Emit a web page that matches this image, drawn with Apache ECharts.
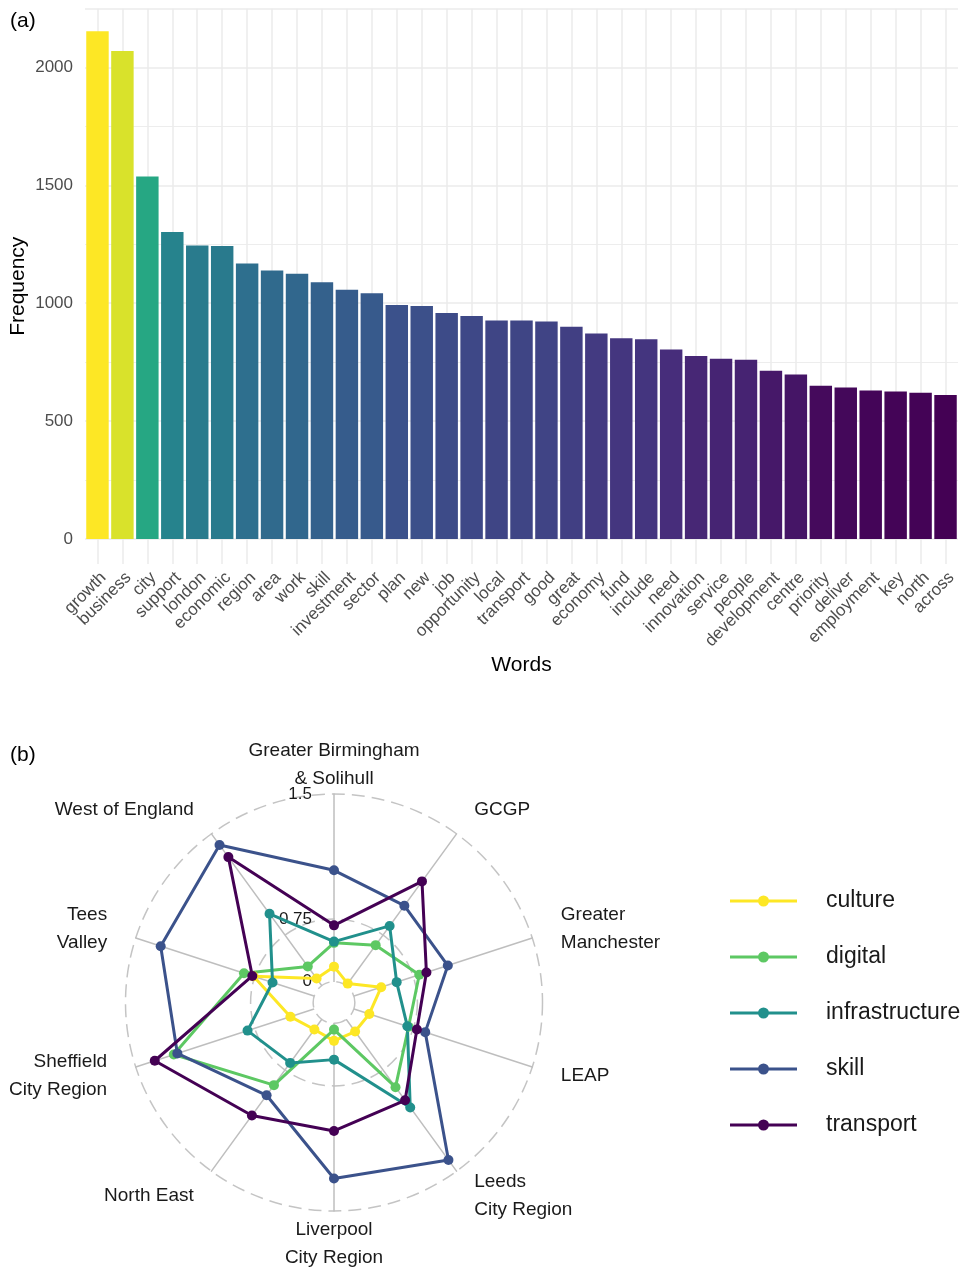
<!DOCTYPE html>
<html>
<head>
<meta charset="utf-8">
<script src="https://cdn.jsdelivr.net/npm/echarts@6/dist/echarts.min.js"></script>
<style>
  html, body { margin: 0; padding: 0; background: #fff; }
  #chart { width: 963px; height: 1269px; }
</style>
</head>
<body>
<div id="chart"></div>
<script>
// (a) word frequencies
const words = ['growth', 'business', 'city', 'support', 'london', 'economic', 'region', 'area', 'work', 'skill',
  'investment', 'sector', 'plan', 'new', 'job', 'opportunity', 'local', 'transport', 'good', 'great',
  'economy', 'fund', 'include', 'need', 'innovation', 'service', 'people', 'development', 'centre',
  'priority', 'deliver', 'employment', 'key', 'north', 'across']
const frequency = [2154, 2070, 1537, 1302, 1245, 1243, 1169, 1139, 1125, 1089,
  1057, 1042, 992, 988, 958, 946, 927, 927, 923, 900,
  872, 851, 847, 804, 776, 765, 760, 714, 698,
  650, 643, 630, 626, 620, 611]
const freqTickStep = 500
const freqMax = 2250

// (b) radar, regions clockwise from the top
const regions = ['Greater Birmingham\n& Solihull', 'GCGP', 'Greater\nManchester', 'LEAP', 'Leeds\nCity Region',
  'Liverpool\nCity Region', 'North East', 'Sheffield\nCity Region', 'Tees\nValley', 'West of England']
const topics = ['culture', 'digital', 'infrastructure', 'skill', 'transport']
const culture = [0.12, 0.02, 0.23, 0.13, 0.12, 0.14, 0.10, 0.20, 0.51, 0.07]
const digital = [0.31, 0.40, 0.55, 0.46, 0.67, 0.05, 0.65, 1.18, 0.59, 0.19]
const infrastructure = [0.32, 0.59, 0.36, 0.45, 0.87, 0.29, 0.43, 0.56, 0.35, 0.71]
const skill = [0.89, 0.79, 0.79, 0.60, 1.39, 1.24, 0.75, 1.15, 1.29, 1.39]
const transport = [0.45, 1.03, 0.61, 0.53, 0.80, 0.86, 0.95, 1.34, 0.52, 1.27]
const radarGridValues = [0, 0.5, 1.5]
const radarGridLabels = ['0', '0.75', '1.5']

const viridis = ['#440154', '#472D7B', '#3B528B', '#2C728E', '#21908C', '#27AD81', '#5DC863', '#AADC32', '#FDE725']
const topicColors = ['#FDE725', '#5DC863', '#21908C', '#3B528B', '#440154']
const font = '"Liberation Sans", Arial, sans-serif'

const radarMax = 1.5
const radarMin = -radarMax / 9
const cx = 334
const cy = 1002.5
const radius = 208.5

// echarts radar runs counter-clockwise, so walk the regions backwards after the first
const order = [0, 9, 8, 7, 6, 5, 4, 3, 2, 1]
const topicValues = [culture, digital, infrastructure, skill, transport]

const indicators = order.map(i => {
  let gap = 30
  if (i === 0) gap = 1
  if (i === 5) gap = 5
  const ind = { name: regions[i], min: radarMin, max: radarMax, nameGap: gap, nameMoveOverlap: false }
  if (i === 0) {
    ind.axisLabel = {
      show: true,
      margin: 22,
      fontSize: 17,
      color: '#1a1a1a',
      fontFamily: font,
      formatter: v => {
        const k = radarGridValues.findIndex(g => Math.abs(g - v) < 1e-3)
        return k >= 0 ? radarGridLabels[k] : ''
      }
    }
  }
  return ind
})

// grid circles only at 0, the mid line and the max
const ringColors = []
for (let i = 0; i <= 10; i++) {
  ringColors.push([1, 4, 10].includes(i) ? '#c4c4c4' : 'rgba(0,0,0,0)')
}

const chart = echarts.init(document.getElementById('chart'))

chart.setOption({
  animation: false,
  backgroundColor: '#fff',
  textStyle: { fontFamily: font },
  title: [
    { text: '(a)', left: 5, top: 6, textStyle: { fontSize: 21, fontWeight: 'normal', color: '#000', fontFamily: font } },
    { text: '(b)', left: 5, top: 740, textStyle: { fontSize: 21, fontWeight: 'normal', color: '#000', fontFamily: font } }
  ],
  grid: {
    left: 85,
    right: 5,
    top: 8.5,
    bottom: 730,
    outerBoundsMode: 'none',
    containLabel: false
  },
  xAxis: {
    type: 'category',
    data: words,
    name: 'Words',
    nameLocation: 'middle',
    nameGap: 116,
    nameMoveOverlap: false,
    nameTextStyle: { fontSize: 21, color: '#000', fontFamily: font },
    axisLine: { show: false },
    axisTick: {
      show: true,
      alignWithLabel: true,
      length: 25,
      lineStyle: { color: '#ebebeb', width: 1.5 }
    },
    axisLabel: {
      interval: 0,
      rotate: 45,
      align: 'right',
      verticalAlign: 'top',
      margin: 30,
      fontSize: 17,
      color: '#4d4d4d',
      fontFamily: font,
      hideOverlap: false
    },
    splitLine: {
      show: true,
      alignWithLabel: true,
      lineStyle: { color: '#ebebeb', width: 1.5 }
    }
  },
  yAxis: {
    type: 'value',
    min: 0,
    max: freqMax,
    interval: freqTickStep,
    name: 'Frequency',
    nameLocation: 'middle',
    nameGap: 56,
    nameMoveOverlap: false,
    nameTextStyle: { fontSize: 21, color: '#000', fontFamily: font, padding: [0, 25, 0, 0] },
    axisLine: { show: false },
    axisTick: { show: false },
    axisLabel: {
      fontSize: 17, color: '#4d4d4d', margin: 12, fontFamily: font, showMaxLabel: false,
      formatter: v => String(v)
    },
    splitLine: { lineStyle: { color: '#ebebeb', width: 1.5 } },
    minorTick: { show: false, splitNumber: 2 },
    minorSplitLine: { show: true, lineStyle: { color: '#ededed', width: 1 } }
  },
  visualMap: {
    type: 'continuous',
    show: false,
    seriesIndex: 0,
    min: Math.min(...frequency),
    max: Math.max(...frequency),
    inRange: { color: viridis }
  },
  radar: {
    center: [cx, cy],
    radius: radius,
    shape: 'circle',
    startAngle: 90,
    splitNumber: 10,
    axisNameGap: 30,
    axisName: {
      color: '#1a1a1a',
      fontSize: 19,
      lineHeight: 28,
      fontFamily: font
    },
    axisLine: {
      show: true,
      lineStyle: {
        width: 1.5,
        color: {
          type: 'radial', x: cx, y: cy, r: radius, global: true,
          colorStops: [
            { offset: 0, color: 'rgba(190,190,190,0)' },
            { offset: 0.099, color: 'rgba(190,190,190,0)' },
            { offset: 0.1, color: '#bebebe' },
            { offset: 1, color: '#bebebe' }
          ]
        }
      }
    },
    axisTick: { show: false },
    axisLabel: { show: false },
    splitLine: {
      show: true,
      lineStyle: { color: ringColors, width: 1.5, type: [13, 7] }
    },
    splitArea: { show: false },
    indicator: indicators
  },
  legend: {
    orient: 'vertical',
    left: 730,
    top: 888,
    padding: 0,
    itemWidth: 67,
    itemHeight: 12,
    itemGap: 30,
    icon: 'path://M0,4.5L28.5,4.5L28.5,7.5L0,7.5Z M38.5,4.5L67,4.5L67,7.5L38.5,7.5Z M28,6A5.5,5.5,0,1,1,39,6A5.5,5.5,0,1,1,28,6Z',
    itemStyle: { borderWidth: 0 },
    textStyle: { fontSize: 23, color: '#1a1a1a', lineHeight: 26, padding: [0, 0, 0, 24], fontFamily: font },
    data: topics
  },
  series: [
    {
      type: 'bar',
      data: frequency,
      barCategoryGap: '10%'
    },
    {
      type: 'radar',
      symbol: 'circle',
      symbolSize: 10,
      data: topics.map((t, k) => ({
        name: t,
        value: order.map(i => topicValues[k][i]),
        lineStyle: { color: topicColors[k], width: 3 },
        itemStyle: { color: topicColors[k], borderWidth: 0 }
      }))
    }
  ]
})
</script>
</body>
</html>
